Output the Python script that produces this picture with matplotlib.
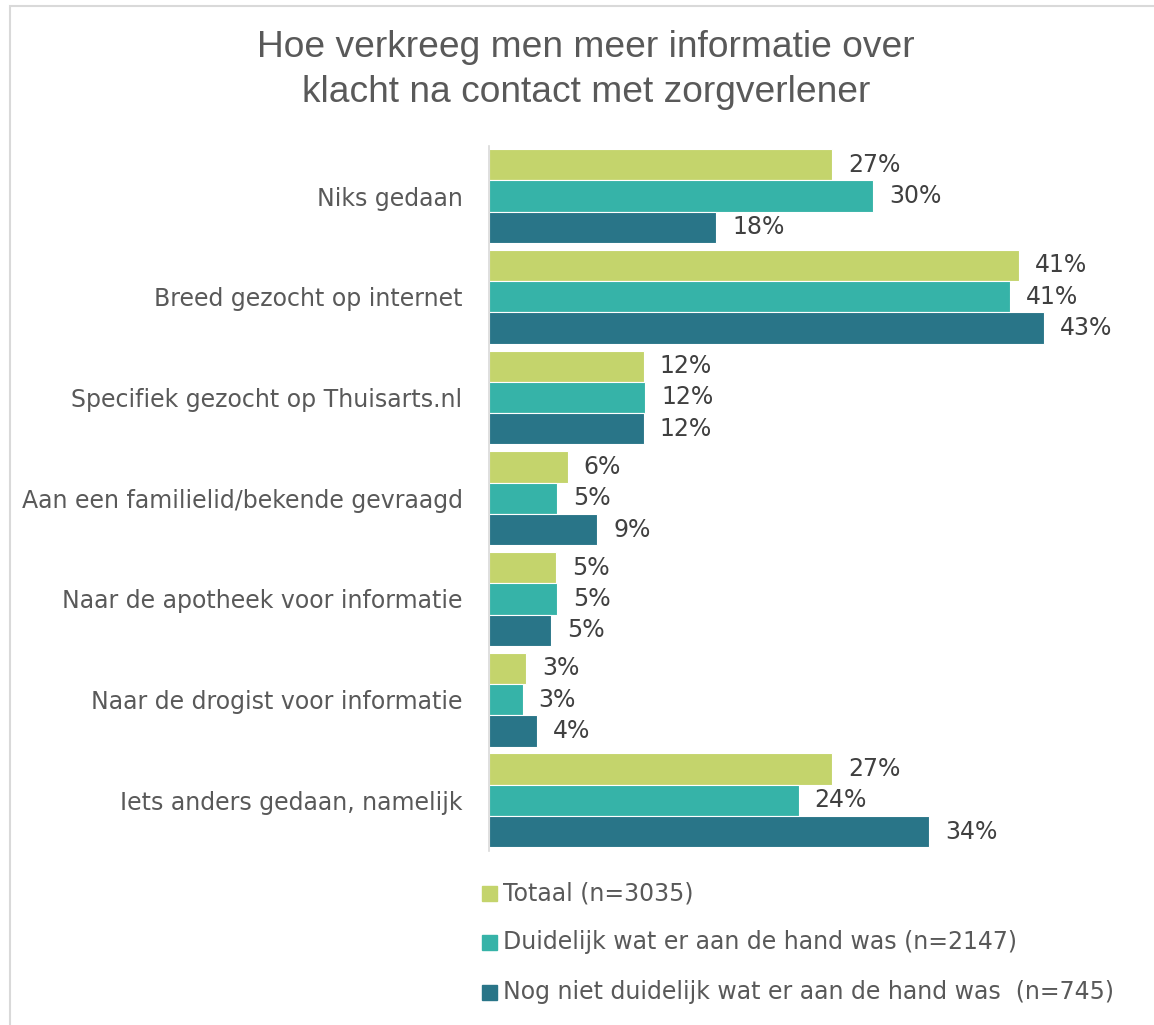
import numpy as np
import matplotlib.pyplot as plt
from matplotlib.patches import Rectangle

# data
categories = ["Niks gedaan", "Breed gezocht op internet", "Specifiek gezocht op Thuisarts.nl",
              "Aan een familielid/bekende gevraagd", "Naar de apotheek voor informatie",
              "Naar de drogist voor informatie", "Iets anders gedaan, namelijk"]
series_names = ["Totaal (n=3035)", "Duidelijk wat er aan de hand was (n=2147)",
                "Nog niet duidelijk wat er aan de hand was  (n=745)"]
totaal = [26.6, 41.1, 12.0, 6.1, 5.2, 2.9, 26.6]
duidelijk = [29.8, 40.4, 12.1, 5.3, 5.3, 2.6, 24.0]
nog_niet = [17.6, 43.0, 12.0, 8.4, 4.8, 3.7, 34.1]
totaal_lbl = ["27%", "41%", "12%", "6%", "5%", "3%", "27%"]
duidelijk_lbl = ["30%", "41%", "12%", "5%", "5%", "3%", "24%"]
nog_niet_lbl = ["18%", "43%", "12%", "9%", "5%", "4%", "34%"]

colors = ["#C4D46C", "#36B3A8", "#297588"]
txt_grey = "#595959"
lbl_grey = "#404040"
fs = 17

W, H = 1154, 1025
fig = plt.figure(figsize=(W / 100, H / 100), dpi=100)
ax = fig.add_axes([489 / W, 1 - 850.7 / H, 645 / W, 705 / H])

y = np.arange(len(categories))
h = 0.311
all_vals = [totaal, duidelijk, nog_niet]
all_lbls = [totaal_lbl, duidelijk_lbl, nog_niet_lbl]
for k in range(3):
    pos = y + (k - 1) * h
    ax.barh(pos, all_vals[k], height=h, color=colors[k], edgecolor="white", linewidth=0.8)
    for p, v, s in zip(pos, all_vals[k], all_lbls[k]):
        ax.annotate(s, (v, p), xytext=(16 * 0.72, 0), textcoords="offset points",
                    va="center", ha="left", fontsize=fs, color=lbl_grey)

ax.set_xlim(0, 50)
ax.set_ylim(len(categories) - 0.5, -0.5)
ax.set_yticks(y)
ax.set_yticklabels(categories, fontsize=fs, color=txt_grey)
ax.tick_params(axis="y", length=0, pad=19)
ax.set_xticks([])
for s in ["top", "right", "bottom"]:
    ax.spines[s].set_visible(False)
ax.spines["left"].set_color("#D9D9D9")
ax.spines["left"].set_linewidth(1.2)

fig.text(586 / W, 1 - 30 / H, "Hoe verkreeg men meer informatie over\nklacht na contact met zorgverlener",
         ha="center", va="top", fontsize=26.7, color=txt_grey, family="Liberation Sans",
         linespacing=1.36)

# legend, drawn by hand
leg_y = [893, 942, 992]
for k in range(3):
    fig.add_artist(Rectangle((482 / W, 1 - (leg_y[k] + 7.5) / H), 15 / W, 15 / H,
                             transform=fig.transFigure, color=colors[k]))
    fig.text(503 / W, 1 - leg_y[k] / H, series_names[k], ha="left", va="center",
             fontsize=fs, color=txt_grey)

# chart area border (top and left visible)
fig.add_artist(Rectangle((10 / W, -0.1), 1.2, 1 - 6 / H + 0.1, transform=fig.transFigure,
                         fill=False, edgecolor="#D9D9D9", linewidth=1.5))

fig.savefig("out.png", dpi=100)
